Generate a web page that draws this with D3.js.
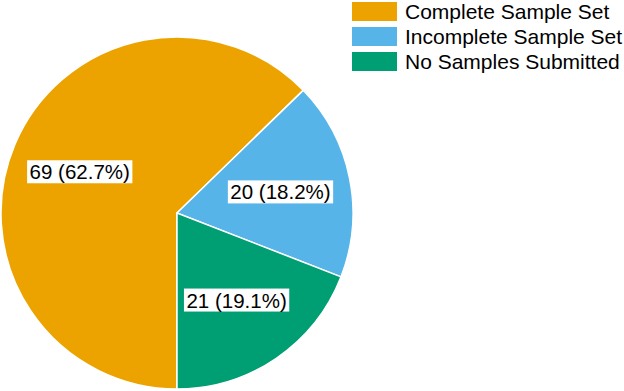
<!DOCTYPE html>
<html>
<head>
<meta charset="utf-8">
<script src="https://cdn.jsdelivr.net/npm/d3@7"></script>
<style>
  body { margin: 0; background: #fff; }
  text { font-family: "Liberation Sans", Arial, sans-serif; }
</style>
</head>
<body>
<div id="chart"></div>
<script>
const categories = ["Complete Sample Set", "Incomplete Sample Set", "No Samples Submitted"];
const counts = [69, 20, 21];
const colors = ["#ECA300", "#56B4E9", "#009E73"];

const W = 624, H = 391;
const cx = 177, cy = 213, R = 176;

const svg = d3.select("#chart").append("svg")
  .attr("width", W).attr("height", H);

const total = d3.sum(counts);
const data = categories.map((c, i) => ({ cat: c, n: counts[i] }));

const color = d3.scaleOrdinal().domain(categories).range(colors);

// start at 6 o'clock, go clockwise, keep data order
const pie = d3.pie().value(d => d.n).sort(null)
  .startAngle(Math.PI).endAngle(3 * Math.PI);
const arcs = pie(data);

const arc = d3.arc().innerRadius(0).outerRadius(R);
const labelArc = d3.arc().innerRadius(R * 0.6).outerRadius(R * 0.6);

const g = svg.append("g").attr("transform", `translate(${cx},${cy})`);

g.selectAll("path.slice")
  .data(arcs)
  .join("path")
  .attr("class", "slice")
  .attr("d", arc)
  .attr("fill", d => color(d.data.cat))
  .attr("stroke", "#fff")
  .attr("stroke-width", 1.5);

// labels with white boxes
const lab = g.selectAll("g.lab")
  .data(arcs)
  .join("g")
  .attr("class", "lab")
  .attr("transform", d => `translate(${labelArc.centroid(d)})`);

lab.append("text")
  .attr("text-anchor", "middle")
  .attr("dy", "0.36em")
  .attr("font-size", 20.5)
  .attr("fill", "#000")
  .text(d => `${d.data.n} (${(d.data.n / total * 100).toFixed(1)}%)`);

lab.each(function() {
  const t = d3.select(this).select("text");
  const b = t.node().getBBox();
  d3.select(this).insert("rect", "text")
    .attr("x", b.x - 2.5).attr("y", b.y)
    .attr("width", b.width + 5).attr("height", b.height)
    .attr("fill", "#fff");
});

// legend
const legend = svg.append("g").attr("transform", "translate(352,2)");
const item = legend.selectAll("g")
  .data(categories)
  .join("g")
  .attr("transform", (d, i) => `translate(0,${i * 25})`);

item.append("rect")
  .attr("width", 45).attr("height", 19)
  .attr("fill", d => color(d));

item.append("text")
  .attr("x", 53).attr("y", 17)
  .attr("font-size", 21)
  .attr("fill", "#000")
  .text(d => d);
</script>
</body>
</html>
